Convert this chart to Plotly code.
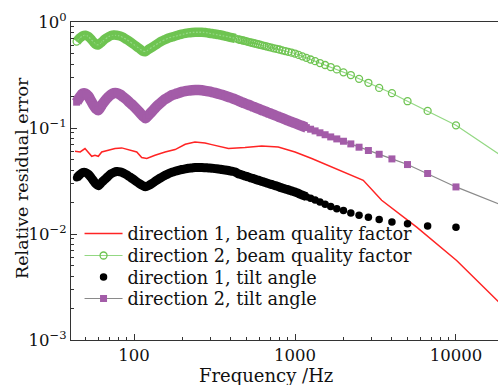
import plotly.graph_objects as go
import math

# Frequency grid (Hz) shared by the marker series
freq = [44, 46, 48, 50, 52, 54, 56, 58, 60, 63, 66, 69, 72, 75, 78, 82, 86, 90, 94, 98,
        103, 108, 113, 118, 124, 130, 136, 142, 149, 156, 164, 172, 180, 189, 198,
        208, 218, 229, 240, 252, 264, 277, 290, 304, 319, 335, 351, 368, 386, 405, 425,
        444.4, 454.5, 465.1, 476.2, 487.8, 500, 512.8, 526.3, 540.5, 555.6, 571.4, 588.2,
        606.1, 625, 645.2, 666.7, 689.7, 714.3, 740.7, 769.2, 800, 833.3, 869.6, 909.1,
        952.4, 1000, 1052.6, 1111.1, 1176.5, 1250, 1333.3, 1428.6, 1538.5, 1666.7, 1818.2,
        2000, 2222.2, 2500, 2857.1, 3333.3, 4000, 5000, 6666.7, 10000, 20000]

dir2_beam = [0.654, 0.706, 0.741, 0.750, 0.729, 0.691, 0.647, 0.613, 0.609,
             0.647, 0.691, 0.721, 0.746, 0.754, 0.750,
             0.737, 0.714, 0.683, 0.654, 0.626,
             0.593, 0.562, 0.532, 0.526,
             0.556, 0.580, 0.606, 0.633, 0.661, 0.683,
             0.706, 0.721, 0.737, 0.754, 0.770,
             0.782, 0.790, 0.797, 0.801, 0.802, 0.801, 0.796, 0.787,
             0.778, 0.770, 0.760, 0.750, 0.737, 0.724, 0.712, 0.700,
             0.686, 0.680, 0.675, 0.669, 0.663, 0.656, 0.650, 0.643, 0.637, 0.630,
             0.624, 0.617, 0.610, 0.602, 0.596, 0.588, 0.580, 0.573, 0.565, 0.557,
             0.550, 0.540, 0.532, 0.523, 0.514, 0.504, 0.489, 0.474, 0.459, 0.443,
             0.427, 0.410, 0.393, 0.376, 0.357, 0.335, 0.316, 0.291, 0.267, 0.239,
             0.213, 0.179, 0.145, 0.106, 0.0522]

dir2_tilt = [0.1753, 0.1955, 0.2110, 0.2110, 0.1998, 0.1811, 0.1642, 0.1522, 0.1473,
             0.1642, 0.1811, 0.1955, 0.2064, 0.2133, 0.2133,
             0.2064, 0.1955, 0.1851, 0.1734, 0.1642,
             0.1522, 0.1410, 0.1307, 0.1238,
             0.1336, 0.1441, 0.1555, 0.1660, 0.1772, 0.1872,
             0.1955, 0.2042, 0.2087, 0.2142, 0.2189,
             0.2227, 0.2252, 0.2267, 0.2277, 0.2277, 0.2267, 0.2242, 0.2213,
             0.2180, 0.2142, 0.2101, 0.2060, 0.2011, 0.1963, 0.1912, 0.1863,
             0.1806, 0.1780, 0.1757, 0.1730, 0.1708, 0.1682, 0.1657, 0.1632, 0.1603, 0.1579,
             0.1552, 0.1525, 0.1498, 0.1470, 0.1445, 0.1416, 0.1386, 0.1359, 0.1330, 0.1298,
             0.1268, 0.1238, 0.1206, 0.1174, 0.1142, 0.1110, 0.1077, 0.1044, 0.1009, 0.0974,
             0.0939, 0.0901, 0.0864, 0.0824, 0.0789, 0.0750, 0.0708, 0.0659, 0.0613, 0.0565,
             0.0511, 0.0452, 0.0372, 0.0278, 0.0183]

dir1_tilt = [0.0339, 0.0362, 0.0380, 0.0380, 0.0366, 0.0343, 0.0318, 0.0297, 0.0285,
             0.0307, 0.0328, 0.0350, 0.0370, 0.0382, 0.0389,
             0.0386, 0.0376, 0.0362, 0.0346, 0.0332,
             0.0314, 0.0299, 0.0287, 0.0279,
             0.0288, 0.0301, 0.0316, 0.0330, 0.0344, 0.0358,
             0.0372, 0.0382, 0.0391, 0.0399, 0.0406,
             0.0412, 0.0417, 0.0420, 0.0423, 0.0424, 0.0424, 0.0422, 0.0420,
             0.0418, 0.0414, 0.0411, 0.0406, 0.0402, 0.0397, 0.0391, 0.0385,
             0.0370, 0.0366, 0.0362, 0.0358, 0.0353, 0.0350, 0.0345, 0.0340, 0.0336, 0.0332,
             0.0327, 0.0322, 0.0318, 0.0313, 0.0308, 0.0303, 0.0298, 0.0294, 0.0288, 0.0283,
             0.0277, 0.0272, 0.0266, 0.0261, 0.0255, 0.0249, 0.0241, 0.0233, 0.0225, 0.0217,
             0.0209, 0.0200, 0.0191, 0.0182, 0.0173, 0.0167, 0.0158, 0.0150, 0.0144, 0.0137,
             0.0130, 0.0125, 0.0119, 0.0116, 0.0115]

# Direction 1 beam quality factor (solid red line)
red_freq = [43, 46.3, 49.6, 52, 54.6, 57.2, 60, 63, 69.2, 76.2, 83.9, 90.1, 96.8, 104,
            111.6, 120, 135, 156, 180, 208, 239, 276, 304, 386, 489, 621, 787, 1000,
            1270, 1611, 2655, 3454, 4285, 5700, 10090, 20000]
dir1_beam = [0.0604, 0.0594, 0.0640, 0.0582, 0.0541, 0.0553, 0.0541, 0.0594, 0.0617,
             0.0640, 0.0649, 0.0631, 0.0617, 0.0594, 0.0526, 0.0515, 0.0553, 0.0594,
             0.0626, 0.0703, 0.0739, 0.0723, 0.0697, 0.0640, 0.0654, 0.0677, 0.0662,
             0.0594, 0.0515, 0.0440, 0.0321, 0.0208, 0.0161, 0.0116, 0.00563, 0.00202]

legend_names = ["direction 1, beam quality factor",
                "direction 2, beam quality factor",
                "direction 1, tilt angle",
                "direction 2, tilt angle"]

# number of leading points where the markers merge into a solid band
n_dense_green = 51
n_dense_tilt = 80

FONT = "DejaVu Serif"
GREEN = "#6fc452"
PURPLE = "#a35ca8"

fig = go.Figure()
fig.add_trace(go.Scatter(x=red_freq, y=dir1_beam, mode="lines", name=legend_names[0],
                         legend="legend",
                         line=dict(color="#ff2424", width=1.5)))
# dense (overlapping marker) bands
fig.add_trace(go.Scatter(x=freq[:n_dense_green], y=dir2_beam[:n_dense_green], mode="lines",
                         showlegend=False, hoverinfo="skip",
                         line=dict(color=GREEN, width=9.5, shape="spline", smoothing=0.8)))
fig.add_trace(go.Scatter(x=freq, y=dir2_beam, mode="lines+markers", name=legend_names[1],
                         legend="legend2",
                         line=dict(color="#93d883", width=1.2),
                         marker=dict(symbol="circle-open", size=7, color=GREEN,
                                     line=dict(width=1.3, color=GREEN))))
fig.add_trace(go.Scatter(x=freq[:n_dense_tilt], y=dir1_tilt[:n_dense_tilt], mode="lines",
                         showlegend=False, hoverinfo="skip",
                         line=dict(color="#000000", width=9, shape="spline", smoothing=0.8)))
fig.add_trace(go.Scatter(x=freq, y=dir1_tilt, mode="markers", name=legend_names[2],
                         legend="legend3",
                         marker=dict(symbol="circle", size=7.5, color="#000000")))
fig.add_trace(go.Scatter(x=freq[:n_dense_tilt], y=dir2_tilt[:n_dense_tilt], mode="lines",
                         showlegend=False, hoverinfo="skip",
                         line=dict(color=PURPLE, width=10.5, shape="spline", smoothing=0.8)))
fig.add_trace(go.Scatter(x=freq, y=dir2_tilt, mode="lines+markers", name=legend_names[3],
                         legend="legend4",
                         line=dict(color="#8a8a8a", width=1.2),
                         marker=dict(symbol="square", size=7, color=PURPLE)))

def minor_vals(lo, hi):
    out = []
    for k in range(lo, hi):
        for m in range(2, 10):
            out.append(m * 10 ** k)
    return out

# plot area: 22 px .. 340 px from the top
def py(px):
    return (340 - px) / 318.0

def px_x(px):
    return (px - 71) / 427.0

leg_common = dict(x=0.02, xanchor="left", yanchor="middle", bgcolor="rgba(0,0,0,0)",
                  font=dict(family=FONT, size=17.7, color="#111"), itemwidth=38)

fig.update_layout(
    width=498, height=385,
    margin=dict(l=71, r=0, t=22, b=45),
    paper_bgcolor="white", plot_bgcolor="white",
    font=dict(family=FONT, size=16, color="#111"),
    showlegend=True,
    legend=dict(y=py(234), **leg_common),
    legend2=dict(y=py(256), **leg_common),
    legend3=dict(y=py(277.5), **leg_common),
    legend4=dict(y=py(299), **leg_common),
    xaxis=dict(type="log", range=[math.log10(40.6), math.log10(18240)],
               tickvals=[100, 1000, 10000], ticktext=["100", "1000", "10000"],
               ticks="inside", ticklen=6, tickwidth=1.2, tickcolor="#333",
               minor=dict(tickvals=minor_vals(1, 5), ticks="inside", ticklen=3,
                          tickwidth=1, tickcolor="#333", showgrid=False),
               showline=True, linecolor="#333", linewidth=1.4, mirror=True,
               showgrid=False, zeroline=False,
               tickfont=dict(family=FONT, size=16.5, color="#111")),
    yaxis=dict(type="log", range=[-3, 0],
               tickvals=[0.001, 0.01, 0.1, 1],
               ticktext=["10<sup>−3</sup>", "10<sup>−2</sup>", "10<sup>−1</sup>", "10<sup>0</sup>"],
               ticks="inside", ticklen=6, tickwidth=1.2, tickcolor="#333",
               minor=dict(tickvals=minor_vals(-3, 0), ticks="inside", ticklen=3,
                          tickwidth=1, tickcolor="#333", showgrid=False),
               showline=True, linecolor="#333", linewidth=1.4, mirror=False,
               showgrid=False, zeroline=False,
               tickfont=dict(family=FONT, size=16.5, color="#111")),
    annotations=[
        dict(text="Frequency /Hz", xref="paper", yref="paper", x=px_x(266), y=py(375),
             xanchor="center", yanchor="middle", showarrow=False,
             font=dict(family=FONT, size=18, color="#111")),
        dict(text="Relative residual error", xref="paper", yref="paper", x=px_x(22),
             y=py(178), xanchor="center", yanchor="middle", textangle=-90, showarrow=False,
             font=dict(family=FONT, size=17.5, color="#111")),
    ],
)

fig.write_html("out.html")
